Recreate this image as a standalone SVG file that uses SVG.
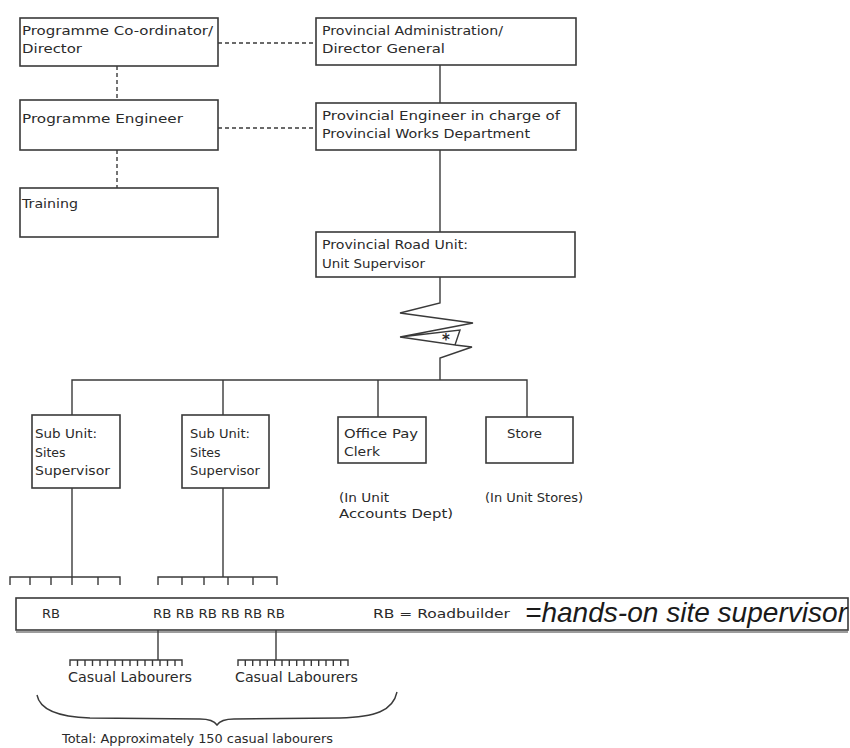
<svg xmlns="http://www.w3.org/2000/svg" width="850" height="748" viewBox="0 0 850 748">
<style>
.box{fill:#fff;stroke:#3a3a3a;stroke-width:1.6}
.ln{fill:none;stroke:#3a3a3a;stroke-width:1.4}
.dash{fill:none;stroke:#3a3a3a;stroke-width:1.4;stroke-dasharray:4 3}
.t{font-family:"DejaVu Sans","Liberation Sans",sans-serif;font-size:12.5px;fill:#2a2a2a}
.big{font-family:"Liberation Sans",Arial,sans-serif;font-size:28px;font-style:italic;fill:#1a1a1a}
</style>
<rect width="850" height="748" fill="#fff"/>
<g id="connectors">
<line class="dash" x1="218" y1="43" x2="316" y2="43"/>
<line class="dash" x1="218" y1="128" x2="316" y2="128"/>
<line class="dash" x1="117" y1="66" x2="117" y2="100"/>
<line class="dash" x1="117" y1="150" x2="117" y2="188"/>
<line class="ln" x1="440" y1="65" x2="440" y2="103"/>
<line class="ln" x1="440" y1="150" x2="440" y2="232"/>
<path class="ln" d="M440,277 L440,303 L400,313 L473,323 L400,337 L460,330 L455,345 L400,337 M455,345 L472,347 L440,358 L440,380"/>
<text x="442" y="345" class="t" style="font-size:15px;font-weight:bold">*</text>
<path class="ln" d="M72,415 V380 H527 V417 M223,380 V415 M378,380 V417"/>
<line class="ln" x1="72" y1="488" x2="72" y2="577"/>
<line class="ln" x1="223" y1="488" x2="223" y2="577"/>
<path class="ln" d="M10,585 V577 H120 V585 M30,577 V585 M51,577 V585 M72,577 V585 M98,577 V585"/>
<path class="ln" d="M158,585 V577 H277 V585 M182,577 V585 M204,577 V585 M228,577 V585 M253,577 V585"/>
<line class="ln" x1="158" y1="630" x2="158" y2="660"/>
<line class="ln" x1="276" y1="630" x2="276" y2="660"/>
<path class="ln" d="M70,666 V660 H182 V666 M77.5,660 V666 M85,660 V666 M92.5,660 V666 M100,660 V666 M107.5,660 V666 M115,660 V666 M122.5,660 V666 M130,660 V666 M137.5,660 V666 M145,660 V666 M152.5,660 V666 M160,660 V666 M167.5,660 V666 M175,660 V666"/>
<path class="ln" d="M238,666 V660 H348 V666 M245.3,660 V666 M252.7,660 V666 M260,660 V666 M267.3,660 V666 M274.7,660 V666 M282,660 V666 M289.3,660 V666 M296.7,660 V666 M304,660 V666 M311.3,660 V666 M318.7,660 V666 M326,660 V666 M333.3,660 V666 M340.7,660 V666"/>
<path class="ln" d="M37,695 C40,711 60,717 90,718 L200,719 Q213,719 217,725 Q221,719 234,719 L340,718 C375,717 393,711 397,692"/>
</g>
<g id="n1"><rect class="box" x="20" y="18" width="198" height="48"/>
<text class="t" x="22" y="35" textLength="191" lengthAdjust="spacingAndGlyphs">Programme Co-ordinator/</text>
<text class="t" x="22" y="53" textLength="60" lengthAdjust="spacingAndGlyphs">Director</text></g>
<g id="n2"><rect class="box" x="20" y="100" width="198" height="50"/>
<text class="t" x="22" y="123" textLength="161" lengthAdjust="spacingAndGlyphs">Programme Engineer</text></g>
<g id="n3"><rect class="box" x="20" y="188" width="198" height="49"/>
<text class="t" x="22" y="208" textLength="56" lengthAdjust="spacingAndGlyphs">Training</text></g>
<g id="n4"><rect class="box" x="316" y="18" width="260" height="47"/>
<text class="t" x="322" y="35" textLength="181" lengthAdjust="spacingAndGlyphs">Provincial Administration/</text>
<text class="t" x="322" y="53" textLength="123" lengthAdjust="spacingAndGlyphs">Director General</text></g>
<g id="n5"><rect class="box" x="316" y="103" width="260" height="47"/>
<text class="t" x="322" y="120" textLength="238" lengthAdjust="spacingAndGlyphs">Provincial Engineer in charge of</text>
<text class="t" x="322" y="138" textLength="208" lengthAdjust="spacingAndGlyphs">Provincial Works Department</text></g>
<g id="n6"><rect class="box" x="316" y="232" width="259" height="45"/>
<text class="t" x="322" y="249" textLength="146" lengthAdjust="spacingAndGlyphs">Provincial Road Unit:</text>
<text class="t" x="322" y="268" textLength="103" lengthAdjust="spacingAndGlyphs">Unit Supervisor</text></g>
<g id="n7"><rect class="box" x="32" y="415" width="88" height="73"/>
<text class="t" x="35" y="438" textLength="62" lengthAdjust="spacingAndGlyphs">Sub Unit:</text>
<text class="t" x="35" y="457">Sites</text>
<text class="t" x="35" y="475" textLength="75" lengthAdjust="spacingAndGlyphs">Supervisor</text></g>
<g id="n8"><rect class="box" x="182" y="415" width="87" height="73"/>
<text class="t" x="190" y="438" textLength="60" lengthAdjust="spacingAndGlyphs">Sub Unit:</text>
<text class="t" x="190" y="457">Sites</text>
<text class="t" x="190" y="475" textLength="70" lengthAdjust="spacingAndGlyphs">Supervisor</text></g>
<g id="n9"><rect class="box" x="338" y="417" width="88" height="46"/>
<text class="t" x="344" y="438" textLength="74" lengthAdjust="spacingAndGlyphs">Office Pay</text>
<text class="t" x="344" y="456" textLength="36" lengthAdjust="spacingAndGlyphs">Clerk</text></g>
<g id="n10"><rect class="box" x="486" y="417" width="87" height="46"/>
<text class="t" x="507" y="438" textLength="35" lengthAdjust="spacingAndGlyphs">Store</text></g>
<g id="notes">
<text class="t" x="339" y="502" textLength="50" lengthAdjust="spacingAndGlyphs">(In Unit</text>
<text class="t" x="339" y="518" textLength="114" lengthAdjust="spacingAndGlyphs">Accounts Dept)</text>
<text class="t" x="485" y="502" textLength="98" lengthAdjust="spacingAndGlyphs">(In Unit Stores)</text>
</g>
<g id="n11"><rect class="box" x="16" y="598" width="832" height="32"/>
<line class="ln" x1="16" y1="632" x2="848" y2="632" style="stroke-width:1"/>
<text class="t" x="42" y="618" textLength="18" lengthAdjust="spacingAndGlyphs">RB</text>
<text class="t" x="153" y="618" textLength="132" lengthAdjust="spacingAndGlyphs">RB RB RB RB RB RB</text>
<text class="t" x="373" y="618" textLength="137" lengthAdjust="spacingAndGlyphs">RB = Roadbuilder</text>
<text class="big" x="525" y="622" textLength="322" lengthAdjust="spacingAndGlyphs">=hands-on site supervisor</text></g>
<g id="labels">
<text class="t" x="68" y="682" style="font-size:13.5px" textLength="124" lengthAdjust="spacingAndGlyphs">Casual Labourers</text>
<text class="t" x="235" y="682" style="font-size:13.5px" textLength="123" lengthAdjust="spacingAndGlyphs">Casual Labourers</text>
<text class="t" x="62" y="743" style="font-size:13px" textLength="271" lengthAdjust="spacingAndGlyphs">Total: Approximately 150 casual labourers</text>
</g>
</svg>
